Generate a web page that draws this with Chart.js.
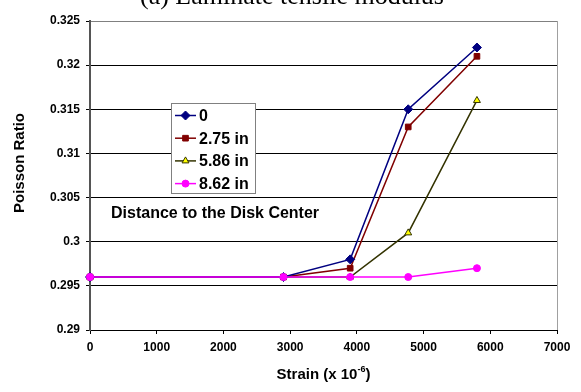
<!DOCTYPE html>
<html>
<head>
<meta charset="utf-8">
<script src="https://cdn.jsdelivr.net/npm/chart.js@4/dist/chart.umd.min.js"></script>
<style>
  html, body { margin: 0; padding: 0; background: #fff; }
  #wrap { width: 581px; height: 392px; }
</style>
</head>
<body>
<div id="wrap"><canvas id="c" width="581" height="392"></canvas></div>
<script>
// Strain (x 10^-6) at which Poisson ratio was measured
const strain = [0, 2900, 3900, 4770, 5800];

// Poisson ratio per distance to the disk center
const ratioCenter = [0.296, 0.296, 0.298, 0.315, 0.322];
const ratio275 = [0.296, 0.296, 0.297, 0.313, 0.321];
const ratio586 = [0.296, 0.296, 0.296, 0.301, 0.316];
const ratio862 = [0.296, 0.296, 0.296, 0.296, 0.297];

const seriesNames = ['0', '2.75 in', '5.86 in', '8.62 in'];

const xTickValues = [0, 1000, 2000, 3000, 4000, 5000, 6000, 7000];
const yTickValues = [0.29, 0.295, 0.3, 0.305, 0.31, 0.315, 0.32, 0.325];

const FONT = "'Liberation Sans', Arial, Helvetica, sans-serif";

const toPoints = ys => strain.map((x, i) => ({ x: x, y: ys[i] }));

const datasets = [
  { label: seriesNames[0], data: toPoints(ratioCenter), borderColor: '#000080', backgroundColor: '#000080',
    pointStyle: 'rectRot', pointRadius: 4.5, pointBorderColor: '#000080', order: 1 },
  { label: seriesNames[1], data: toPoints(ratio275), borderColor: '#800000', backgroundColor: '#800000',
    pointStyle: 'rect', pointRadius: 4, pointBorderColor: '#800000', order: 2 },
  { label: seriesNames[2], data: toPoints(ratio586), borderColor: '#333300', backgroundColor: '#ffff00',
    pointStyle: 'triangle', pointRadius: 4, pointBorderColor: '#333300', order: 3 },
  { label: seriesNames[3], data: toPoints(ratio862), borderColor: '#ff00ff', backgroundColor: '#ff00ff',
    pointStyle: 'circle', pointRadius: 3.5, pointBorderColor: '#ff00ff', order: 0 }
].map(d => Object.assign({ borderWidth: 1.5, pointBorderWidth: 1, tension: 0, clip: false, fill: false }, d));

// Title, axis titles, legend box and note text
const decorations = {
  id: 'decorations',
  afterDraw(chart) {
    const ctx = chart.ctx;
    const area = chart.chartArea;
    ctx.save();

    // right frame line of the plot
    ctx.strokeStyle = '#a0a0a0';
    ctx.lineWidth = 1;
    ctx.beginPath();
    ctx.moveTo(Math.round(area.right) + 0.5, area.top);
    ctx.lineTo(Math.round(area.right) + 0.5, area.bottom);
    ctx.stroke();

    // chart heading (clipped at the top edge)
    ctx.fillStyle = '#000';
    ctx.font = "26px 'Liberation Serif', 'Times New Roman', serif";
    ctx.textAlign = 'center';
    ctx.textBaseline = 'alphabetic';
    ctx.fillText('(a) Laminate tensile modulus', 292, 4);

    // y axis title
    ctx.font = 'bold 15px ' + FONT;
    ctx.save();
    ctx.translate(20, 163);
    ctx.rotate(-Math.PI / 2);
    ctx.textAlign = 'center';
    ctx.textBaseline = 'middle';
    ctx.fillText('Poisson Ratio', 0, 0);
    ctx.restore();

    // x axis title with superscript exponent
    const partA = 'Strain (x 10', sup = '-6', partB = ')';
    ctx.font = 'bold 15px ' + FONT;
    const wA = ctx.measureText(partA).width, wB = ctx.measureText(partB).width;
    ctx.font = 'bold 9px ' + FONT;
    const wS = ctx.measureText(sup).width;
    let x = (area.left + area.right) / 2 - (wA + wS + wB) / 2;
    const base = 379;
    ctx.textAlign = 'left';
    ctx.textBaseline = 'alphabetic';
    ctx.font = 'bold 15px ' + FONT;
    ctx.fillText(partA, x, base);
    x += wA;
    ctx.font = 'bold 9px ' + FONT;
    ctx.fillText(sup, x, base - 7);
    x += wS;
    ctx.font = 'bold 15px ' + FONT;
    ctx.fillText(partB, x, base);

    // legend box
    const bx = 171, by = 103, bw = 84, bh = 90;
    ctx.fillStyle = '#fff';
    ctx.fillRect(bx, by, bw, bh);
    ctx.strokeStyle = '#808080';
    ctx.lineWidth = 1;
    ctx.strokeRect(bx + 0.5, by + 0.5, bw, bh);
    chart.data.datasets.forEach((ds, i) => {
      const cy = 115.5 + i * 22.7;
      ctx.strokeStyle = ds.borderColor;
      ctx.lineWidth = ds.borderWidth;
      ctx.beginPath();
      ctx.moveTo(175, cy);
      ctx.lineTo(196, cy);
      ctx.stroke();
      ctx.fillStyle = ds.backgroundColor;
      ctx.strokeStyle = ds.pointBorderColor;
      ctx.lineWidth = 1;
      Chart.helpers.drawPoint(ctx, { pointStyle: ds.pointStyle, radius: ds.pointRadius, borderWidth: 1, rotation: 0 }, 185.5, cy);
      ctx.fillStyle = '#000';
      ctx.font = 'bold 16px ' + FONT;
      ctx.textAlign = 'left';
      ctx.textBaseline = 'middle';
      ctx.fillText(ds.label, 199, cy + 1);
    });

    // note under the legend
    ctx.fillStyle = '#000';
    ctx.font = 'bold 16px ' + FONT;
    ctx.textAlign = 'left';
    ctx.textBaseline = 'middle';
    ctx.fillText('Distance to the Disk Center', 111, 214);

    ctx.restore();
  }
};

new Chart(document.getElementById('c'), {
  type: 'line',
  data: { datasets: datasets },
  options: {
    responsive: false,
    animation: false,
    devicePixelRatio: 1,
    layout: { padding: { top: 21, right: 24, left: 0, bottom: 0 } },
    plugins: { legend: { display: false }, tooltip: { enabled: false }, title: { display: false } },
    scales: {
      x: {
        type: 'linear',
        min: 0,
        max: 7000,
        afterBuildTicks: s => { s.ticks = xTickValues.map(v => ({ value: v })); },
        afterFit: s => { s.height = 62; },
        ticks: { color: '#000', font: { family: FONT, size: 12, weight: 'bold' }, padding: 6,
                 maxRotation: 0, autoSkip: false, callback: v => String(v) },
        grid: { drawOnChartArea: false, drawTicks: true, tickLength: 4, color: '#000', lineWidth: 1 },
        border: { display: true, color: '#000', width: 1 }
      },
      y: {
        type: 'linear',
        min: 0.29,
        max: 0.325,
        afterBuildTicks: s => { s.ticks = yTickValues.map(v => ({ value: v })); },
        afterFit: s => { s.width = 90; },
        ticks: { color: '#000', font: { family: FONT, size: 12, weight: 'bold' }, padding: 6,
                 callback: v => String(+Number(v).toFixed(3)) },
        grid: {
          color: c => (c.tick && c.tick.value > 0.3249) ? '#808080' : '#000',
          tickColor: '#000',
          tickLength: 4,
          lineWidth: 1
        },
        border: { display: true, color: '#555', width: 2 }
      }
    }
  },
  plugins: [decorations]
});
</script>
</body>
</html>
